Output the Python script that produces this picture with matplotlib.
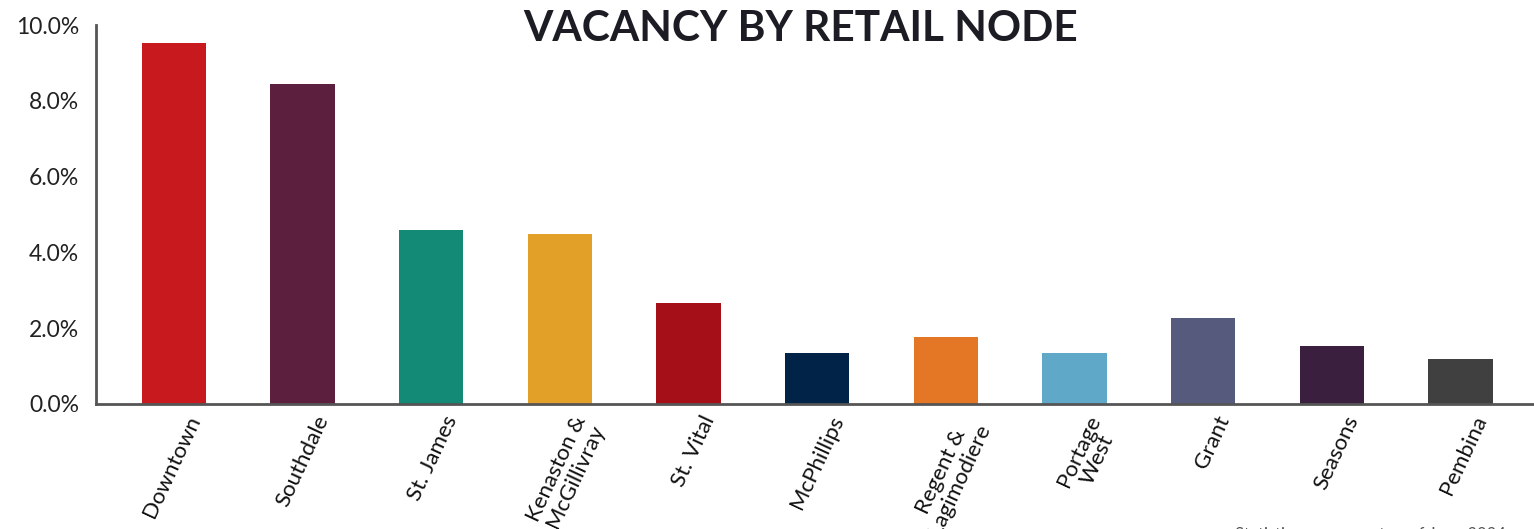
import numpy as np
import matplotlib.pyplot as plt
import matplotlib.transforms as mtransforms
from matplotlib.ticker import PercentFormatter

plt.rcParams['font.family'] = ['Lato', 'DejaVu Sans']

nodes = ["Downtown", "Southdale", "St. James", "Kenaston &\nMcGillivray", "St. Vital",
         "McPhillips", "Regent &\nLagimodiere", "Portage\nWest", "Grant", "Seasons", "Pembina"]
vacancy = [9.52, 8.44, 4.59, 4.49, 2.66, 1.35, 1.77, 1.35, 2.27, 1.53, 1.19]
colors = ["#C8191F", "#5C1F3D", "#138A76", "#E2A028", "#A50F17", "#002347",
          "#E37726", "#5FA8C8", "#565A7C", "#3A1F3F", "#404040"]

fig = plt.figure(figsize=(15.34, 5.29), dpi=100, facecolor="white")
ax = fig.add_axes([96 / 1534, 1 - 404 / 529, 1 - 96 / 1534, 379 / 529])

x = np.arange(len(nodes))
ax.bar(x, vacancy, width=0.5, color=colors)

ax.set_xlim(-0.606, 10.57)
ax.set_ylim(0, 10)
ax.set_yticks(np.arange(0, 10.1, 2))
ax.yaxis.set_major_formatter(PercentFormatter(decimals=1))
ax.tick_params(axis="y", length=0, labelsize=16.5, pad=12, colors="#222222")
ax.tick_params(axis="x", length=0, pad=6)
ax.set_xticks(x)
ax.set_xticklabels(nodes, rotation=65, ha="right", rotation_mode="anchor",
                   multialignment="center", fontsize=16, color="#111111",
                   linespacing=1.0)
shift = mtransforms.ScaledTranslation(12 / 100, 0, fig.dpi_scale_trans)
for lbl in ax.get_xticklabels():
    lbl.set_transform(lbl.get_transform() + shift)

for side in ("top", "right"):
    ax.spines[side].set_visible(False)
for side in ("left", "bottom"):
    ax.spines[side].set_color("#555555")
    ax.spines[side].set_linewidth(2)

fig.text(0.522, 0.945, "VACANCY BY RETAIL NODE", ha="center", va="center",
         fontsize=30.5, fontweight="bold", color="#1C1D24")
fig.text(0.805, -0.012, "Statistics are current as of June 2024", ha="left",
         va="center", fontsize=12, color="#555555")

fig.savefig("out.png", dpi=100, facecolor="white")
